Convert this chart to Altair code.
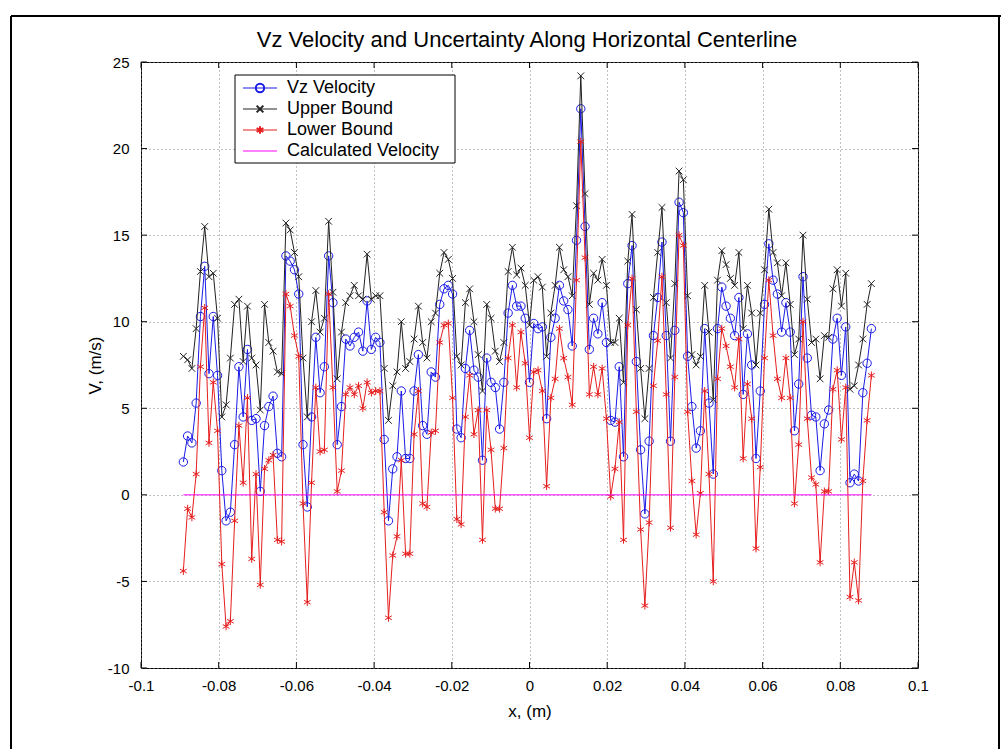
import altair as alt
import pandas as pd

# ---------------- data ----------------
X = [
    -0.0891, -0.0880, -0.0869, -0.0858, -0.0847, -0.0836, -0.0825, -0.0814, -0.0803, -0.0792,
    -0.0781, -0.0770, -0.0759, -0.0748, -0.0737, -0.0726, -0.0715, -0.0704, -0.0693, -0.0682,
    -0.0671, -0.0660, -0.0649, -0.0638, -0.0627, -0.0616, -0.0605, -0.0594, -0.0583, -0.0572,
    -0.0561, -0.0550, -0.0539, -0.0528, -0.0517, -0.0506, -0.0495, -0.0484, -0.0473, -0.0462,
    -0.0451, -0.0440, -0.0429, -0.0418, -0.0407, -0.0396, -0.0385, -0.0374, -0.0363, -0.0352,
    -0.0341, -0.0330, -0.0319, -0.0308, -0.0297, -0.0286, -0.0275, -0.0264, -0.0253, -0.0242,
    -0.0231, -0.0220, -0.0209, -0.0198, -0.0187, -0.0176, -0.0165, -0.0154, -0.0143, -0.0132,
    -0.0121, -0.0110, -0.0099, -0.0088, -0.0077, -0.0066, -0.0055, -0.0044, -0.0033, -0.0022,
    -0.0011, 0.0000, 0.0011, 0.0022, 0.0033, 0.0044, 0.0055, 0.0066, 0.0077, 0.0088,
    0.0099, 0.0110, 0.0121, 0.0132, 0.0143, 0.0154, 0.0165, 0.0176, 0.0187, 0.0198,
    0.0209, 0.0220, 0.0231, 0.0242, 0.0253, 0.0264, 0.0275, 0.0286, 0.0297, 0.0308,
    0.0319, 0.0330, 0.0341, 0.0352, 0.0363, 0.0374, 0.0385, 0.0396, 0.0407, 0.0418,
    0.0429, 0.0440, 0.0451, 0.0462, 0.0473, 0.0484, 0.0495, 0.0506, 0.0517, 0.0528,
    0.0539, 0.0550, 0.0561, 0.0572, 0.0583, 0.0594, 0.0605, 0.0616, 0.0627, 0.0638,
    0.0649, 0.0660, 0.0671, 0.0682, 0.0693, 0.0704, 0.0715, 0.0726, 0.0737, 0.0748,
    0.0759, 0.0770, 0.0781, 0.0792, 0.0803, 0.0814, 0.0825, 0.0836, 0.0847, 0.0858,
    0.0869, 0.0880,
]

VZ = [
    1.9, 3.4, 3.0, 5.3, 10.3, 13.2, 7.0, 10.3, 6.9, 1.4,
    -1.5, -1.0, 2.9, 7.4, 4.5, 8.4, 4.3, 4.4, 0.2, 4.0,
    5.1, 5.7, 2.4, 2.2, 13.8, 13.5, 13.0, 11.6, 2.9, -0.7,
    4.5, 9.1, 5.9, 7.4, 13.8, 11.1, 2.9, 5.1, 9.0, 8.6,
    9.1, 9.4, 8.3, 11.2, 8.4, 9.1, 8.8, 3.2, -1.5, 1.5,
    2.2, 6.0, 2.1, 2.1, 6.0, 8.1, 4.0, 3.5, 7.1, 6.8,
    11.0, 11.9, 12.1, 11.6, 3.8, 3.3, 7.3, 9.5, 7.2, 6.8,
    2.0, 7.9, 6.5, 6.2, 3.8, 6.5, 10.5, 12.1, 10.9, 10.9,
    10.2, 6.5, 9.9, 9.6, 9.7, 4.4, 9.1, 10.2, 12.1, 11.2,
    10.7, 8.6, 14.7, 22.3, 15.5, 8.4, 10.2, 9.3, 11.1, 8.8,
    4.3, 4.2, 7.4, 2.2, 12.2, 14.4, 7.7, 2.6, -1.1, 3.1,
    9.2, 11.4, 14.6, 9.2, 3.1, 9.5, 16.9, 16.3, 8.0, 5.1,
    2.7, 3.7, 9.6, 5.3, 1.2, 9.6, 12.0, 10.9, 10.2, 9.2,
    11.4, 5.8, 9.3, 7.5, 2.1, 6.0, 11.0, 14.5, 12.4, 11.6,
    9.4, 11.1, 9.4, 3.7, 6.4, 12.6, 7.9, 4.6, 4.5, 1.4,
    4.1, 4.9, 9.0, 10.2, 6.9, 9.7, 0.7, 1.2, 0.8, 5.9,
    7.6, 9.6,
]

UPPER = [
    8.0, 7.8, 7.3, 9.6, 12.9, 15.5, 12.6, 12.8, 10.2, 4.5,
    5.2, 7.9, 11.0, 11.3, 7.7, 10.9, 7.9, 7.5, 4.9, 11.0,
    8.8, 8.3, 7.1, 7.0, 15.7, 15.3, 14.0, 12.6, 7.9, 4.5,
    10.0, 11.8, 9.4, 10.2, 15.8, 11.7, 6.7, 9.4, 11.1, 11.5,
    12.1, 11.5, 11.3, 13.9, 11.3, 11.5, 11.5, 7.3, 4.3, 6.3,
    7.1, 10.0, 7.3, 7.7, 9.0, 10.9, 8.8, 7.9, 10.0, 10.5,
    12.8, 14.0, 13.6, 12.5, 8.0, 7.5, 11.1, 11.9, 10.0, 8.1,
    6.0, 11.0, 10.2, 8.3, 7.7, 8.8, 12.9, 14.3, 12.7, 13.1,
    12.1, 9.8, 12.4, 12.6, 12.0, 8.0, 10.5, 12.1, 14.3, 13.0,
    12.6, 11.5, 16.7, 24.2, 17.4, 11.0, 12.8, 12.4, 13.6, 12.1,
    8.8, 8.8, 10.2, 6.5, 13.5, 16.2, 10.7, 7.3, 4.4, 7.3,
    11.4, 14.0, 16.6, 11.1, 7.9, 12.2, 18.7, 18.2, 11.5, 8.1,
    7.5, 8.0, 12.1, 9.4, 5.5, 12.4, 14.1, 13.3, 12.5, 12.1,
    14.0, 9.6, 12.1, 10.5, 7.5, 10.5, 13.0, 16.5, 14.0, 13.4,
    11.5, 13.4, 11.0, 8.1, 9.0, 15.0, 11.3, 8.8, 9.0, 6.7,
    9.2, 9.1, 11.9, 13.0, 10.9, 12.8, 6.1, 6.3, 7.5, 9.0,
    11.0, 12.2,
]

LOWER = [
    -4.4, -0.8, -1.3, 1.2, 7.4, 10.8, 3.0, 6.5, 3.7, -4.0,
    -7.6, -7.3, -1.5, 4.0, 0.7, 5.6, -3.7, 1.2, -5.2, 1.5,
    2.0, 2.3, -2.6, -2.7, 11.6, 10.9, 9.2, 8.0, -0.5, -6.2,
    0.7, 6.2, 2.5, 2.6, 11.6, 6.2, 0.2, 1.4, 5.8, 6.2,
    5.8, 6.3, 5.0, 6.5, 5.9, 6.0, 6.0, -1.0, -7.1, -3.5,
    -2.4, 2.0, -3.4, -3.4, 3.5, 6.0, -0.5, -0.7, 3.6, 3.7,
    8.8, 9.8, 9.9, 5.6, -1.4, -1.7, 4.5, 6.9, 3.5, 4.9,
    -2.6, 4.9, 2.6, -0.8, -0.8, 2.7, 7.9, 9.8, 6.2, 9.4,
    7.6, 3.3, 7.1, 7.2, 6.0, 0.5, 5.6, 6.7, 9.6, 7.9,
    6.8, 5.2, 12.4, 20.4, 13.7, 5.8, 7.4, 5.8, 7.3, 4.4,
    -0.1, 1.5, 4.2, -2.6, 9.8, 12.5, 4.8, -2.0, -6.4, -1.6,
    6.3, 8.9, 12.6, 5.8, -1.9, 6.8, 15.0, 14.4, 4.8, 0.8,
    -2.3, 0.1, 6.0, 1.2, -5.0, 6.7, 9.6, 8.6, 7.4, 6.2,
    9.0, 2.1, 6.4, 4.4, -3.1, 1.6, 7.9, 12.4, 9.2, 6.7,
    5.6, 7.9, 5.6, -0.5, 2.9, 10.0, 4.4, 1.0, 0.6, -3.9,
    0.2, 0.2, 6.1, 7.2, 3.2, 6.2, -5.9, -3.9, -6.1, 0.8,
    4.3, 6.9,
]

CALC_X = [-0.0891, 0.0880]
CALC_V = [0.0, 0.0]

X_TICKS = [-0.1, -0.08, -0.06, -0.04, -0.02, 0.0, 0.02, 0.04, 0.06, 0.08, 0.1]
Y_TICKS = [-10, -5, 0, 5, 10, 15, 20, 25]

TITLE = "Vz Velocity and Uncertainty Along Horizontal Centerline"
X_TITLE = "x, (m)"
Y_TITLE = "V, (m/s)"
LEGEND_LABELS = ["Vz Velocity", "Upper Bound", "Lower Bound", "Calculated Velocity"]

# ---------------- styling ----------------
FONT = "Liberation Sans"
BLUE = "#1a1ae6"
BLACK = "#222222"
RED = "#e61e1e"
MAGENTA = "#ff00ff"
W, H = 777, 606
PAD_L, PAD_T = 141, 62

X_SHAPE = "M-1,-1L1,1M-1,1L1,-1"
STAR_SHAPE = "M0,-1L0,1M-0.87,-0.5L0.87,0.5M-0.87,0.5L0.87,-0.5"

df = pd.DataFrame({"x": X, "vz": VZ, "upper": UPPER, "lower": LOWER})
calc_df = pd.DataFrame({"x": CALC_X, "y": CALC_V})

xscale = alt.Scale(domain=[-0.1, 0.1], nice=False, zero=False)
yscale = alt.Scale(domain=[-10, 25], nice=False, zero=False)

axis_common = dict(
    labelFont=FONT, labelFontSize=15, labelColor="black", labelFlush=False, labelOverlap=False,
    titleFont=FONT, titleFontSize=17, titleColor="black", titleFontWeight="normal",
    tickSize=0, domain=False, grid=True, gridColor="#808080", gridDash=[1, 3], gridWidth=1,
)
x_axis = alt.Axis(
    values=X_TICKS, labelExpr="'' + round(datum.value * 100) / 100",
    labelPadding=10, title=X_TITLE, titleY=43, titleBaseline="middle", **axis_common,
)
y_axis = alt.Axis(
    values=Y_TICKS, labelExpr="'' + datum.value", labelPadding=12,
    title=Y_TITLE, titleX=-46, titleY=H / 2, titleAlign="center", titleBaseline="middle",
    **axis_common,
)


def X_(field="x"):
    return alt.X(f"{field}:Q", scale=xscale, axis=x_axis)


def Y_(field):
    return alt.Y(f"{field}:Q", scale=yscale, axis=y_axis)


def series(col, color, shape, size):
    base = alt.Chart(df)
    line = base.mark_line(color=color, strokeWidth=1).encode(x=X_(), y=Y_(col))
    pts = base.mark_point(shape=shape, filled=False, color=color, size=size, strokeWidth=1, opacity=1).encode(
        x=X_(), y=Y_(col)
    )
    return [line, pts]


layers = []
layers += series("vz", BLUE, "circle", 70)
layers += series("upper", BLACK, X_SHAPE, 45)
layers += series("lower", RED, STAR_SHAPE, 60)
layers.append(alt.Chart(calc_df).mark_line(color=MAGENTA, strokeWidth=1).encode(x=X_(), y=Y_("y")))

# inward tick marks on all four sides (MATLAB box style)
TL = 6
xt = pd.DataFrame({"x": X_TICKS})
yt = pd.DataFrame({"y": Y_TICKS})
layers.append(alt.Chart(xt).mark_rule(color="black", strokeWidth=1).encode(
    x=X_(), y=alt.value(H), y2=alt.value(H - TL)))
layers.append(alt.Chart(xt).mark_rule(color="black", strokeWidth=1).encode(
    x=X_(), y=alt.value(0), y2=alt.value(TL)))
layers.append(alt.Chart(yt).mark_rule(color="black", strokeWidth=1).encode(
    y=Y_("y"), x=alt.value(0), x2=alt.value(TL)))
layers.append(alt.Chart(yt).mark_rule(color="black", strokeWidth=1).encode(
    y=Y_("y"), x=alt.value(W), x2=alt.value(W - TL)))

# title
one = pd.DataFrame({"k": [0]})
layers.append(alt.Chart(one).mark_text(
    text=TITLE, font=FONT, fontSize=22, color="black", align="center", baseline="middle"
).encode(x=alt.value(527 - PAD_L), y=alt.value(40 - PAD_T)))

# legend box (manual, MATLAB style)
LX0, LX1, LY0, LY1 = 235 - PAD_L, 455 - PAD_L, 75 - PAD_T, 163 - PAD_T
layers.append(alt.Chart(one).mark_rect(fill="white", stroke="black", strokeWidth=1).encode(
    x=alt.value(LX0), x2=alt.value(LX1), y=alt.value(LY0), y2=alt.value(LY1)))
row_y = [88 - PAD_T, 109 - PAD_T, 130 - PAD_T, 151 - PAD_T]
leg_colors = [BLUE, BLACK, RED, MAGENTA]
leg_shapes = ["circle", X_SHAPE, STAR_SHAPE, None]
leg_sizes = [70, 45, 60, 0]
for lab, yy, c, shp, sz in zip(LEGEND_LABELS, row_y, leg_colors, leg_shapes, leg_sizes):
    layers.append(alt.Chart(one).mark_rule(color=c, strokeWidth=1).encode(
        x=alt.value(LX0 + 8), x2=alt.value(LX0 + 42), y=alt.value(yy)))
    if shp is not None:
        layers.append(alt.Chart(one).mark_point(shape=shp, filled=False, color=c, size=sz, opacity=1).encode(
            x=alt.value(LX0 + 25), y=alt.value(yy)))
    layers.append(alt.Chart(one).mark_text(
        text=lab, font=FONT, fontSize=18, color="black", align="left", baseline="middle"
    ).encode(x=alt.value(LX0 + 52), y=alt.value(yy)))

# outer page frame
layers.append(alt.Chart(one).mark_rule(color="black", strokeWidth=2).encode(
    x=alt.value(11 - PAD_L), y=alt.value(16 - PAD_T), y2=alt.value(749 - PAD_T)))
layers.append(alt.Chart(one).mark_rule(color="black", strokeWidth=2).encode(
    x=alt.value(11 - PAD_L), x2=alt.value(1001 - PAD_L), y=alt.value(16 - PAD_T)))
layers.append(alt.Chart(one).mark_rule(color="black", strokeWidth=2).encode(
    x=alt.value(999 - PAD_L), y=alt.value(16 - PAD_T), y2=alt.value(749 - PAD_T)))

chart = alt.layer(*layers).properties(
    width=W, height=H,
    autosize=alt.AutoSizeParams(type="none"),
    padding={"left": PAD_L, "top": PAD_T, "right": 1001 - PAD_L - W, "bottom": 749 - PAD_T - H},
    background="white",
).configure_view(stroke="black", strokeWidth=1)

chart.save("out.html", embed_options={"renderer": "svg", "actions": False})
